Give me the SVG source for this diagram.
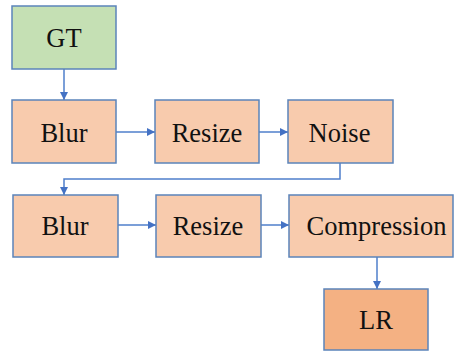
<svg xmlns="http://www.w3.org/2000/svg" width="455" height="352" viewBox="0 0 455 352">
<defs>
<style>
.box{stroke:#5B84BA;stroke-width:1.5}
.step{fill:#F8CBAD}
.t{font-family:"Liberation Serif","Times New Roman",serif;font-size:26.5px;fill:#111;text-anchor:middle}
.c{fill:none;stroke:#4F7FCB;stroke-width:1.5}
</style>
<marker id="ah" viewBox="0 0 10 10" refX="10" refY="5" markerWidth="8" markerHeight="8" markerUnits="userSpaceOnUse" orient="auto">
<path d="M0,0L10,5L0,10z" fill="#4472C4"/>
</marker>
</defs>
<rect width="455" height="352" fill="#fff"/>
<g id="connectors">
<path class="c" d="M64,69V100" marker-end="url(#ah)"/>
<path class="c" d="M116,132H155" marker-end="url(#ah)"/>
<path class="c" d="M259,132H288" marker-end="url(#ah)"/>
<path class="c" d="M340,163V179H64V195" marker-end="url(#ah)"/>
<path class="c" d="M118,225H156" marker-end="url(#ah)"/>
<path class="c" d="M261,225H289" marker-end="url(#ah)"/>
<path class="c" d="M377,257V289" marker-end="url(#ah)"/>
</g>
<g id="gt"><rect class="box" x="12" y="6" width="104" height="63" fill="#C5E0B4"/><text class="t" x="64" y="46.5">GT</text></g>
<g id="blur1"><rect class="box step" x="12" y="100" width="104" height="63"/><text class="t" x="64" y="141.5">Blur</text></g>
<g id="resize1"><rect class="box step" x="155" y="100" width="104" height="63"/><text class="t" x="207" y="141.5">Resize</text></g>
<g id="noise"><rect class="box step" x="288" y="100" width="105" height="63"/><text class="t" x="339.5" y="141.5">Noise</text></g>
<g id="blur2"><rect class="box step" x="13" y="195" width="105" height="62"/><text class="t" x="65" y="235">Blur</text></g>
<g id="resize2"><rect class="box step" x="156" y="195" width="105" height="62"/><text class="t" x="208" y="235">Resize</text></g>
<g id="compression"><rect class="box step" x="289" y="195" width="164" height="62"/><text class="t" x="376.5" y="235">Compression</text></g>
<g id="lr"><rect class="box" x="324" y="289" width="104" height="61" fill="#F4B183"/><text class="t" x="376" y="329">LR</text></g>
</svg>
